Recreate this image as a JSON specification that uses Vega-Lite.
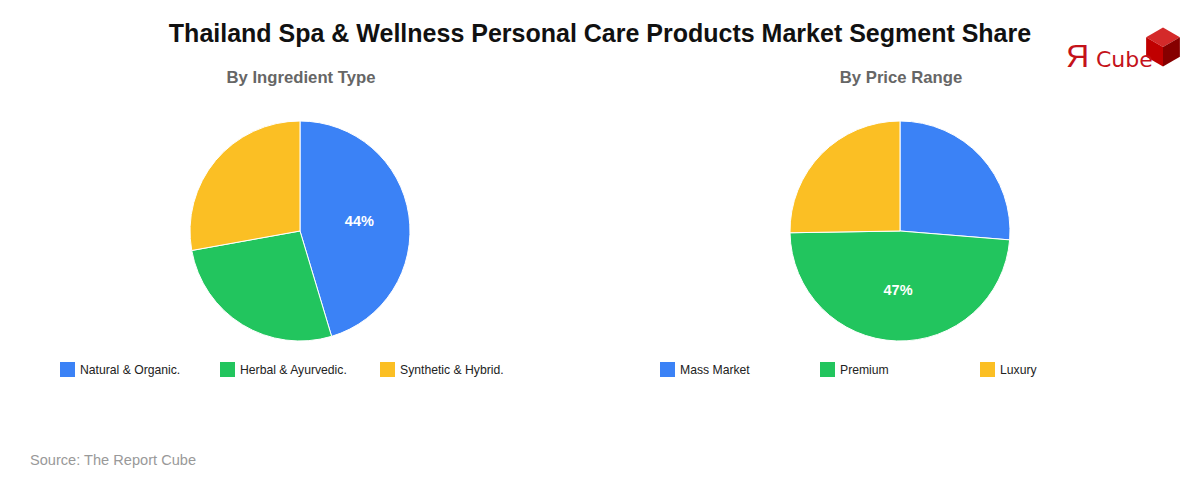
{
  "$schema": "https://vega.github.io/schema/vega-lite/v6.json",
  "background": "white",
  "padding": 0,
  "autosize": {"type": "pad"},
  "bounds": "flush",
  "spacing": 0,
  "config": {
    "view": {"stroke": null},
    "font": "Liberation Sans",
    "legend": {
      "orient": "none",
      "direction": "horizontal",
      "columns": 3,
      "gridAlign": "all",
      "title": null,
      "symbolType": "square",
      "symbolSize": 225,
      "symbolStrokeWidth": 0,
      "labelFontSize": 12.2,
      "labelColor": "#222222",
      "labelFont": "Liberation Sans",
      "labelOffset": 5,
      "padding": 0,
      "legendY": 362
    }
  },
  "resolve": {
    "scale": {"color": "independent", "theta": "independent", "fill": "independent", "shape": "independent"},
    "legend": {"color": "independent"}
  },
  "hconcat": [
    {
      "width": 600,
      "height": 462,
      "data": {"values": [
        {"segment": "Natural & Organic.", "value": 44, "order": 1, "label": "44%"},
        {"segment": "Herbal & Ayurvedic.", "value": 26, "order": 2, "label": "26%"},
        {"segment": "Synthetic & Hybrid.", "value": 27, "order": 3, "label": "27%"}
      ]},
      "layer": [
        {
          "mark": {"type": "arc", "radius": 110, "stroke": "#ffffff", "strokeWidth": 1},
          "encoding": {
            "theta": {"field": "value", "type": "quantitative", "stack": true},
            "order": {"field": "order", "type": "quantitative"},
            "color": {
              "field": "segment", "type": "nominal",
              "scale": {"domain": ["Natural & Organic.", "Herbal & Ayurvedic.", "Synthetic & Hybrid."], "range": ["#3b82f6", "#22c55e", "#fbbf24"]},
              "legend": {"legendX": 60, "columnPadding": 32}
            }
          }
        },
        {
          "mark": {"type": "text", "radius": 60, "fontSize": 14.5, "fontWeight": "bold", "fill": "#ffffff", "align": "center", "baseline": "middle"},
          "encoding": {
            "theta": {"field": "value", "type": "quantitative", "stack": true},
            "order": {"field": "order", "type": "quantitative"},
            "detail": {"field": "segment", "type": "nominal"},
            "text": {"field": "label", "type": "nominal"},
            "opacity": {"condition": {"test": "datum.value > 40", "value": 1}, "value": 0}
          }
        },
        {
          "data": {"values": [{"t": "Thailand Spa & Wellness Personal Care Products Market Segment Share"}]},
          "mark": {"type": "text", "fontSize": 25, "fontWeight": "bold", "fill": "#111111", "align": "center", "baseline": "alphabetic"},
          "encoding": {"x": {"value": 600}, "y": {"value": 42}, "text": {"field": "t", "type": "nominal"}}
        },
        {
          "data": {"values": [{"t": "By Ingredient Type"}]},
          "mark": {"type": "text", "fontSize": 16.7, "fontWeight": "bold", "fill": "#666666", "align": "center", "baseline": "alphabetic"},
          "encoding": {"x": {"value": 301}, "y": {"value": 83}, "text": {"field": "t", "type": "nominal"}}
        },
        {
          "data": {"values": [{"t": "Source: The Report Cube"}]},
          "mark": {"type": "text", "fontSize": 14.6, "fill": "#999999", "align": "left", "baseline": "alphabetic"},
          "encoding": {"x": {"value": 30}, "y": {"value": 465}, "text": {"field": "t", "type": "nominal"}}
        }
      ]
    },
    {
      "width": 600,
      "height": 462,
      "data": {"values": [
        {"segment": "Mass Market", "value": 25.5, "order": 1, "label": "26%"},
        {"segment": "Premium", "value": 47, "order": 2, "label": "47%"},
        {"segment": "Luxury", "value": 24.5, "order": 3, "label": "25%"}
      ]},
      "layer": [
        {
          "mark": {"type": "arc", "radius": 110, "stroke": "#ffffff", "strokeWidth": 1},
          "encoding": {
            "theta": {"field": "value", "type": "quantitative", "stack": true},
            "order": {"field": "order", "type": "quantitative"},
            "color": {
              "field": "segment", "type": "nominal",
              "scale": {"domain": ["Mass Market", "Premium", "Luxury"], "range": ["#3b82f6", "#22c55e", "#fbbf24"]},
              "legend": {"legendX": 60, "columnPadding": 70}
            }
          }
        },
        {
          "mark": {"type": "text", "radius": 60, "fontSize": 14.5, "fontWeight": "bold", "fill": "#ffffff", "align": "center", "baseline": "middle"},
          "encoding": {
            "theta": {"field": "value", "type": "quantitative", "stack": true},
            "order": {"field": "order", "type": "quantitative"},
            "detail": {"field": "segment", "type": "nominal"},
            "text": {"field": "label", "type": "nominal"},
            "opacity": {"condition": {"test": "datum.value > 40", "value": 1}, "value": 0}
          }
        },
        {
          "data": {"values": [{"t": "By Price Range"}]},
          "mark": {"type": "text", "fontSize": 16.7, "fontWeight": "bold", "fill": "#666666", "align": "center", "baseline": "alphabetic"},
          "encoding": {"x": {"value": 301}, "y": {"value": 83}, "text": {"field": "t", "type": "nominal"}}
        },
        {
          "data": {"values": [{"face": "top"}, {"face": "left"}, {"face": "right"}]},
          "mark": {"type": "point", "filled": true, "strokeWidth": 0, "opacity": 1},
          "encoding": {
            "x": {"value": 563},
            "y": {"value": 47},
            "size": {"value": 1521},
            "shape": {"field": "face", "type": "nominal", "legend": null,
              "scale": {"domain": ["top", "left", "right"], "range": ["M0,-1L0.866,-0.5L0,0L-0.866,-0.5Z", "M-0.866,-0.5L0,0L0,1L-0.866,0.5Z", "M0,0L0.866,-0.5L0.866,0.5L0,1Z"]}},
            "fill": {"field": "face", "type": "nominal", "legend": null,
              "scale": {"domain": ["top", "left", "right"], "range": ["#d42a2a", "#c00000", "#860000"]}}
          }
        },
        {
          "data": {"values": [{"t": "Я"}]},
          "mark": {"type": "text", "font": "Liberation Sans", "fontSize": 32, "fill": "#c4121a", "align": "left", "baseline": "alphabetic"},
          "encoding": {"x": {"value": 466}, "y": {"value": 67}, "text": {"field": "t", "type": "nominal"}}
        },
        {
          "data": {"values": [{"t": "Cube"}]},
          "mark": {"type": "text", "font": "DejaVu Sans", "fontSize": 22, "fill": "#c4121a", "align": "left", "baseline": "alphabetic"},
          "encoding": {"x": {"value": 496}, "y": {"value": 67}, "text": {"field": "t", "type": "nominal"}}
        }
      ]
    }
  ]
}
